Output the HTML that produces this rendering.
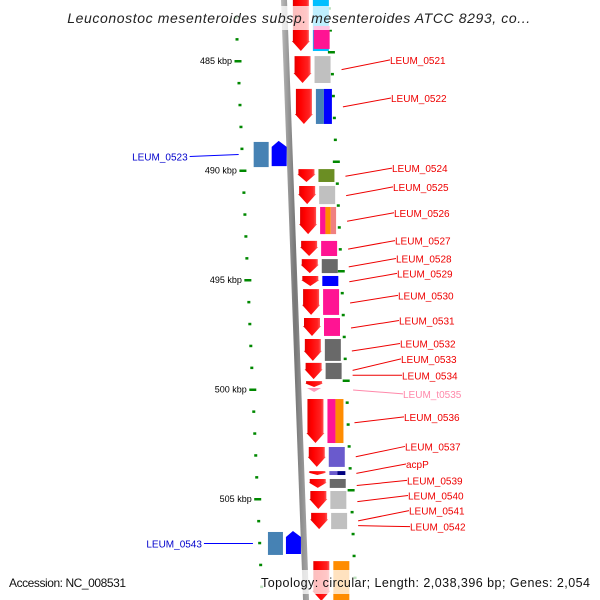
<!DOCTYPE html>
<html><head><meta charset="utf-8"><style>
html,body{margin:0;padding:0;background:#fff}
svg{display:block;font-family:"Liberation Sans",sans-serif}
</style></head><body>
<svg id="map" width="600" height="600" viewBox="0 0 600 600" xmlns="http://www.w3.org/2000/svg">
<defs>
<linearGradient id="bb" x1="0" x2="1"><stop offset="0" stop-color="#bbb"/><stop offset="0.5" stop-color="#777"/><stop offset="1" stop-color="#aaa"/></linearGradient>
<linearGradient id="rg" x1="0" x2="1"><stop offset="0" stop-color="#d00"/><stop offset="0.3" stop-color="#f00"/><stop offset="0.8" stop-color="#f22"/><stop offset="1" stop-color="#f66"/></linearGradient>
</defs>
<g id="layer"></g>
</svg>
<script>
// kbp positions
const majorTicks = [485, 490, 495, 500, 505];
const minorTicks = [482,483,484,486,487,488,489,491,492,493,494,496,497,498,499,501,502,503,504,506,507,508,509];
// forward genes (red arrows)
const fwdStart = [482.0, 484.73, 486.23, 489.89, 490.66, 491.62, 493.17, 494.0, 494.77, 495.37, 496.69, 497.65, 498.74, 499.57, 500.39, 502.58, 503.68, 504.04, 504.59, 505.59, 507.79];
const fwdEnd   = [484.59, 486.05, 487.92, 490.57, 491.58, 492.95, 493.95, 494.73, 495.32, 496.64, 497.60, 498.74, 499.57, 499.93, 502.49, 503.58, 503.95, 504.54, 505.50, 506.42, 509.7];
const fwdColors = [["#00bfff"],["#c0c0c0"],["#4682b4","#0000ff"],["#6b8e23"],["#c0c0c0"],["#ff1493","#ff8c00","#f08080"],["#ff1493"],["#696969"],["#0000ff"],["#ff1493"],["#ff1493"],["#696969"],["#696969"],[],["#ff1493","#ff8c00"],["#6a5acd"],["#6a5acd","#000080"],["#696969"],["#c0c0c0"],["#c0c0c0"],["#ff8c00"]];
// extra box above first labelled gene
const pinkTop = [483.4, 484.45];
// reverse genes (left side)
const revStart = [488.65, 506.46];
const revEnd = [489.89, 507.6];
const revLabels = ["LEUM_0523","LEUM_0543"];
// right labels
const labelNames = ["LEUM_0521","LEUM_0522","LEUM_0524","LEUM_0525","LEUM_0526","LEUM_0527","LEUM_0528","LEUM_0529","LEUM_0530","LEUM_0531","LEUM_0532","LEUM_0533","LEUM_0534","LEUM_t0535","LEUM_0536","LEUM_0537","acpP","LEUM_0539","LEUM_0540","LEUM_0541","LEUM_0542"];
const labelGene = [1,2,3,4,5,6,7,8,9,10,11,12,12,13,14,15,16,17,18,19,19];
const labelKbp = [484.95, 486.69, 489.89, 490.75, 491.93, 493.2, 494.02, 494.7, 495.7, 496.85, 497.9, 498.6, 499.35, 500.2, 501.25, 502.6, 503.4, 504.15, 504.84, 505.53, 506.26];

const NS="http://www.w3.org/2000/svg";
const layer=document.getElementById('layer');
const yOf=k=>61+(k-485)*21.9;
const bbX=y=>284+y*0.0367;
function mk(tag,attrs,parent){const e=document.createElementNS(NS,tag);for(const k in attrs)e.setAttribute(k,attrs[k]);(parent||layer).appendChild(e);return e;}

// backbone
const bbl=mk('polygon',{points:`${bbX(0)-3},0 ${bbX(0)+3},0 ${bbX(600)+3},600 ${bbX(600)-3},600`,fill:'url(#bb)'});



// ticks
function tick(k,major){
  const y=yOf(k);
  const lx=238+(y-61)*0.045, rx=331+(y-52)*0.045;
  const w=major?7:3;
  const t1=mk('rect',{x:lx-w/2,y:y-1,width:w,height:2.5,fill:'#080'});
  
  
  const t2=mk('rect',{x:rx-w/2,y:y-10,width:w,height:2.5,fill:'#080'});
  
  
  if(major){
    const t=mk('text',{x:lx-6,y:y+3,'font-size':9,'text-anchor':'end',fill:'#000'});
    t.textContent=k+' kbp';
    
    
  }
}
majorTicks.forEach(k=>tick(k,true));
minorTicks.forEach(k=>tick(k,false));

// forward genes
const boxRight=[];
function box(y0,y1,cols,bx){
  const n=cols.length;const w=16/n;
  cols.forEach((c,j)=>{
    const r=mk('rect',{x:bx+j*w,y:y0,width:w,height:y1-y0,fill:c});
    
    
  });
}
fwdStart.forEach((s,i)=>{
  const y0=yOf(s)+1,y1=yOf(fwdEnd[i])-1;
  const mid=(y0+y1)/2;const x=bbX(mid)+7;
  const h=Math.min(10,(y1-y0)*0.6);
  const a=mk('polygon',{points:`${x+1},${y0} ${x+17},${y0} ${x+17},${y1-h} ${x+18},${y1-h} ${x+9},${y1} ${x},${y1-h} ${x+1},${y1-h}`,fill:'url(#rg)'});
  
  
  if(fwdColors[i].length) box(y0,y1,fwdColors[i],x+21);
  else{
    const p=mk('polygon',{points:`${x+2},${y1+1} ${x+16},${y1+1} ${x+9},${y1+5}`,fill:'#f9b'});
    
    
  }
  boxRight[i]=x+45;
});
box(yOf(pinkTop[0]),yOf(pinkTop[1]),["#ff1493"],bbX(45)+28);

// reverse genes
revStart.forEach((s,i)=>{
  const y0=yOf(s),y1=yOf(revEnd[i]);const x=bbX((y0+y1)/2)-36;
  const b=mk('rect',{x:x,y:y0+1,width:15,height:y1-y0-2,fill:'#4682b4'});
  
  
  const a=mk('polygon',{points:`${x+18},${y0+6} ${x+25},${y0} ${x+33},${y0+6} ${x+33},${y1-2} ${x+18},${y1-2}`,fill:'#00f'});
  
  
  const ly=(y0+y1)/2;
  mk('line',{x1:x-15,y1:ly,x2:x-64,y2:ly+(i?0:2),stroke:'#00f','stroke-width':1});
  const t=mk('text',{x:x-66,y:ly+(i?4:6),'font-size':10,'text-anchor':'end',fill:'#00c'});
  t.textContent=revLabels[i];
  
  
});

// right labels
labelNames.forEach((n,i)=>{
  const g=labelGene[i];
  const gy=(yOf(fwdStart[g])+yOf(fwdEnd[g]))/2;
  const ty=yOf(labelKbp[i]);
  const tx=390+i*1.0;
  const col=n==='LEUM_t0535'?'#f8a':'#e00';
  mk('line',{x1:boxRight[g]+3,y1:gy+(ty-gy)*0.3+3,x2:tx,y2:ty,stroke:col,'stroke-width':1});
  const t=mk('text',{x:tx,y:ty+4,'font-size':10,fill:col});
  t.textContent=n;
  
  
});

// title and footer overlays
mk('rect',{x:60,y:6,width:480,height:24,fill:'rgba(255,255,255,0.75)'});
const ti=mk('text',{x:299,y:23,'font-size':14,'font-style':'italic','text-anchor':'middle','letter-spacing':'0.6',fill:'#222'});
ti.textContent='Leuconostoc mesenteroides subsp. mesenteroides ATCC 8293, co...';


mk('rect',{x:0,y:570,width:600,height:24,fill:'rgba(255,255,255,0.75)'});
const f1=mk('text',{x:9,y:587,'font-size':12,fill:'#111',textLength:117});
f1.textContent='Accession: NC_008531';


const f2=mk('text',{x:261,y:587,'font-size':12.5,fill:'#111',textLength:329});
f2.textContent='Topology: circular; Length: 2,038,396 bp; Genes: 2,054';


</script>
</body></html>
